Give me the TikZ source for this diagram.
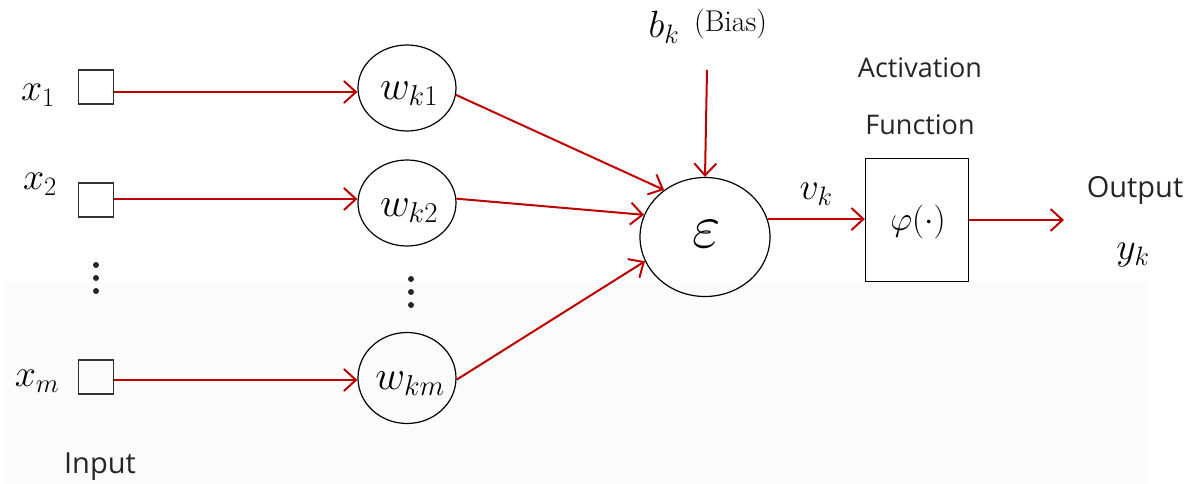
\RequirePackage{fix-cm}
\documentclass[tikz,border=0pt]{standalone}
\usepackage{fontspec}
\setsansfont{Open Sans}
\usetikzlibrary{arrows.meta,shapes.geometric}
\definecolor{arrred}{HTML}{C00000}
\definecolor{bandgray}{RGB}{251,251,251}
\tikzset{
  arr/.style={draw=arrred,line width=2pt,-{Straight Barb[length=12pt,width=22pt,line width=2pt]}},
  inbox/.style={draw=black!80,line width=1.2pt,minimum width=35pt,minimum height=34pt,inner sep=0pt},
  wnode/.style={draw=black,line width=1.2pt,ellipse,minimum width=98pt,minimum height=86pt,inner sep=0pt},
  mathlbl/.style={inner sep=0pt,font=\fontsize{38}{44}\selectfont},
  sanslbl/.style={inner sep=0pt,font=\sffamily\fontsize{27}{32}\selectfont,text=black!85},
  vdots/.style={fill=black!85,circle,inner sep=0pt,minimum size=6pt}
}
\begin{document}
\begin{tikzpicture}[x=1pt,y=-1pt]
\useasboundingbox (0,0) rectangle (1196,484);
\fill[bandgray] (5,283) rectangle (1148,484);
% input boxes
\node[inbox] (b1) at (96,87) {};
\node[inbox] (b2) at (96,200) {};
\node[inbox] (bm) at (96,377) {};
\node[mathlbl] (x1) at (38,95) {$x_1$};
\node[mathlbl] (x2) at (40,184) {$x_2$};
\node[mathlbl] (xm) at (37,381) {$x_m$};
\node[vdots] (d1) at (96,265) {};
\node[vdots] (d2) at (96,278) {};
\node[vdots] (d3) at (96,291) {};
\node[sanslbl,font=\sffamily\fontsize{29}{34}\selectfont] (inp) at (100,467) {Input};
% weights
\node[wnode] (w1) at (407,88) {};
\node[mathlbl,font=\fontsize{41}{48}\selectfont] at (409,94) {$w_{k1}$};
\node[wnode] (w2) at (407,203) {};
\node[mathlbl,font=\fontsize{41}{48}\selectfont] at (409,211) {$w_{k2}$};
\node[wnode,minimum height=91pt] (wm) at (407,378) {};
\node[mathlbl,font=\fontsize{41}{48}\selectfont] at (410,384) {$w_{km}$};
\node[vdots] (e1) at (411,279) {};
\node[vdots] (e2) at (411,292) {};
\node[vdots] (e3) at (411,305) {};
% summation
\node[draw=black,line width=1.2pt,ellipse,minimum width=130pt,minimum height=119pt,inner sep=0pt] (eps) at (705,237) {};
\node[inner sep=0pt,font=\fontsize{62}{70}\selectfont] at (707,234) {$\varepsilon$};
% bias
\node[mathlbl] (bk) at (664,27) {$b_k$};
\node[inner sep=0pt,font=\fontsize{30}{34}\selectfont,anchor=west] (bias) at (694,24) {(Bias)};
\coordinate (bt) at (707,70);
% activation
\node[draw=black,line width=1.2pt,minimum width=103pt,minimum height=123pt,inner sep=0pt] (phi) at (917,220) {};
\node[inner sep=0pt,font=\fontsize{34}{40}\selectfont] at (918,222) {$\varphi(\cdot)$};
\node[sanslbl] (act) at (920,68) {Activation};
\node[sanslbl] (fun) at (920,125) {Function};
\node[mathlbl] (vk) at (816,194) {$v_k$};
% output
\coordinate (out) at (1064,220);
\node[sanslbl,font=\sffamily\fontsize{29}{34}\selectfont] (outl) at (1135,190) {Output};
\node[mathlbl] (yk) at (1133,255) {$y_k$};
% connectors
\draw[arr] (b1.east |- 0,92) -- (w1.west |- 0,92);
\draw[arr] (b2.east |- 0,199) -- (w2.west |- 0,199);
\draw[arr] (bm.east |- 0,380) -- (wm.west |- 0,380);
\draw[arr] (w1.-8) -- (eps.131);
\draw[arr] (w2.5) -- (eps.160);
\draw[arr] (wm.-2) -- (eps.202);
\draw[arr] (bt) -- (eps.north);
\draw[arr] (eps.16) -- (eps.16 -| phi.west);
\draw[arr] (phi.east) -- (out);
\end{tikzpicture}
\end{document}
